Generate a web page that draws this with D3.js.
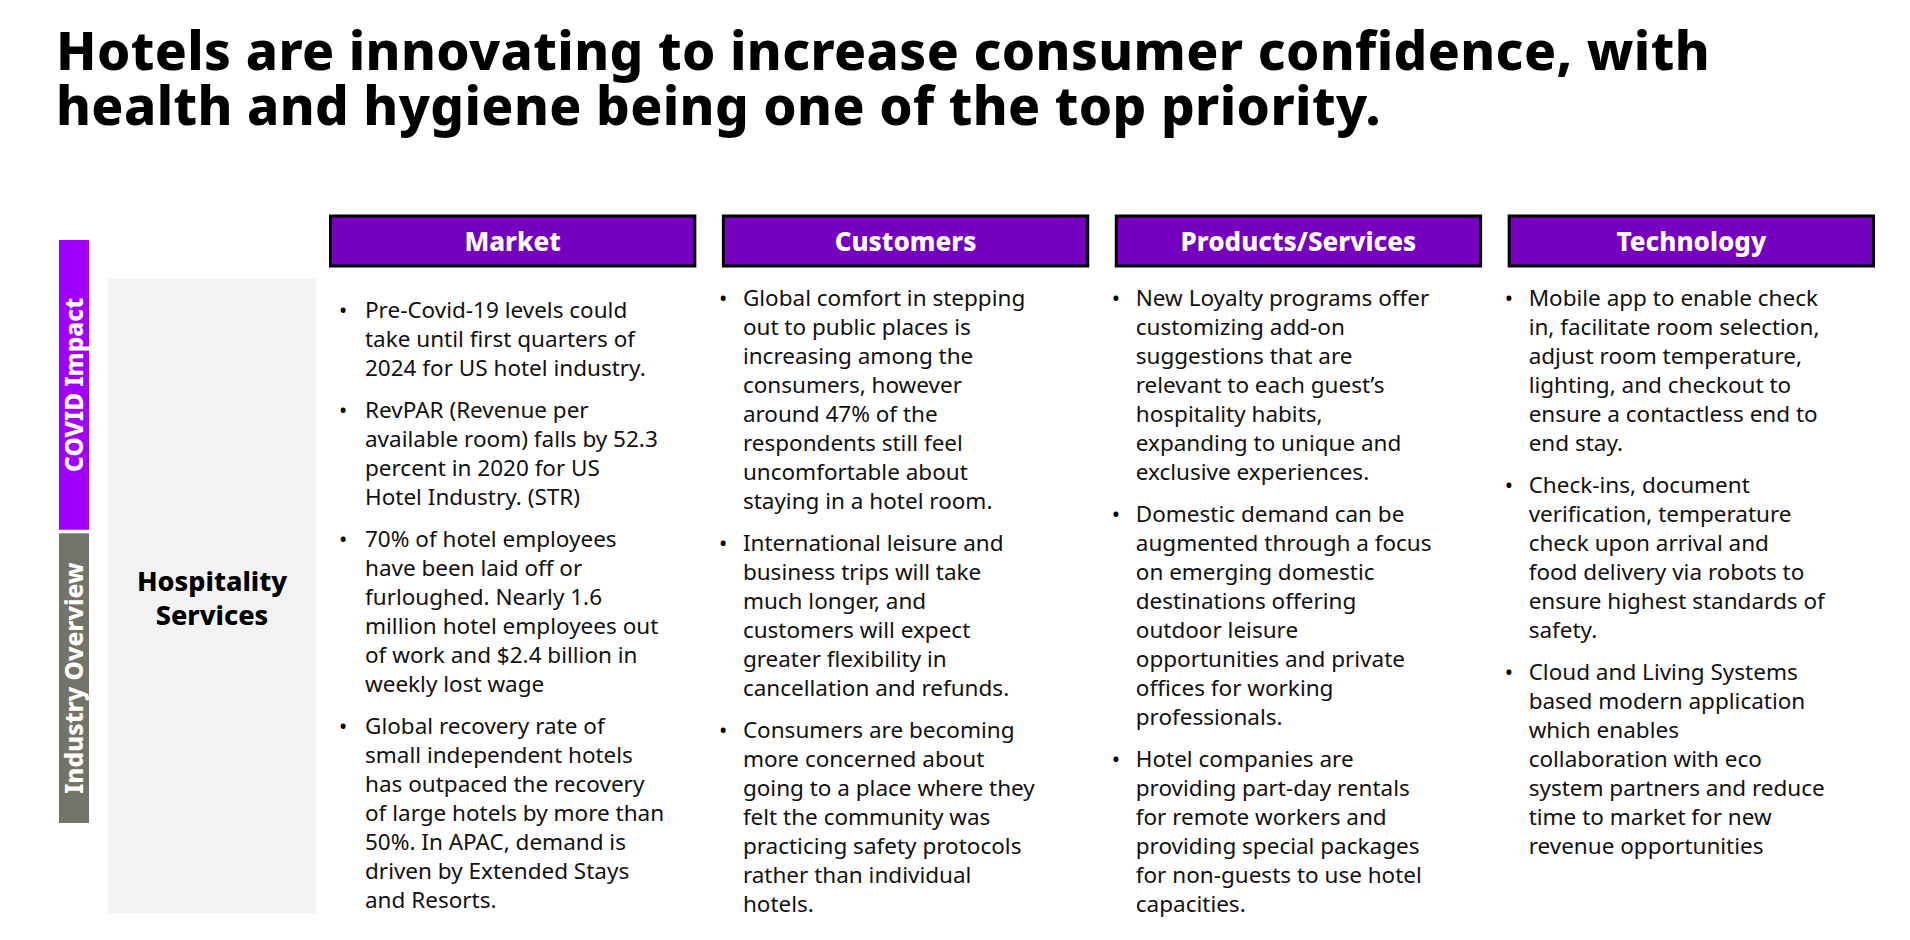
<!DOCTYPE html>
<html><head><meta charset="utf-8">
<script src="https://cdn.jsdelivr.net/npm/d3@7"></script>
<style>body{margin:0;background:#fff}</style>
</head><body>
<script>
const width = 1910, height = 940;

const titleLines = [
  "Hotels are innovating to increase consumer confidence, with",
  "health and hygiene being one of the top priority."
];
const categories = ["Market", "Customers", "Products/Services", "Technology"];
const sideLabels = ["COVID Impact", "Industry Overview"];
const rowLabel = ["Hospitality", "Services"];

const market = [
  ["Pre-Covid-19 levels could", "take until first quarters of", "2024 for US hotel industry."],
  ["RevPAR (Revenue per", "available room) falls by 52.3", "percent in 2020 for US", "Hotel Industry. (STR)"],
  ["70% of hotel employees", "have been laid off or", "furloughed. Nearly 1.6", "million hotel employees out", "of work and $2.4 billion in", "weekly lost wage"],
  ["Global recovery rate of", "small independent hotels", "has outpaced the recovery", "of large hotels by more than", "50%. In APAC, demand is", "driven by Extended Stays", "and Resorts."]
];
const customers = [
  ["Global comfort in stepping", "out to public places is", "increasing among the", "consumers, however", "around 47% of the", "respondents still feel", "uncomfortable about", "staying in a hotel room."],
  ["International leisure and", "business trips will take", "much longer, and", "customers will expect", "greater flexibility in", "cancellation and refunds."],
  ["Consumers are becoming", "more concerned about", "going to a place where they", "felt the community was", "practicing safety protocols", "rather than individual", "hotels."]
];
const products = [
  ["New Loyalty programs offer", "customizing add-on", "suggestions that are", "relevant to each guest\u2019s", "hospitality habits,", "expanding to unique and", "exclusive experiences."],
  ["Domestic demand can be", "augmented through a focus", "on emerging domestic", "destinations offering", "outdoor leisure", "opportunities and private", "offices for working", "professionals."],
  ["Hotel companies are", "providing part-day rentals", "for remote workers and", "providing special packages", "for non-guests to use hotel", "capacities."]
];
const technology = [
  ["Mobile app to enable check", "in, facilitate room selection,", "adjust room temperature,", "lighting, and checkout to", "ensure a contactless end to", "end stay."],
  ["Check-ins, document", "verification, temperature", "check upon arrival and", "food delivery via robots to", "ensure highest standards of", "safety."],
  ["Cloud and Living Systems", "based modern application", "which enables", "collaboration with eco", "system partners and reduce", "time to market for new", "revenue opportunities"]
];
const columnBullets = [market, customers, products, technology];
const columnTop = [318, 306, 306, 306];
const bulletOffset = [10, -3, -3, -3];
const textOffset = [36, 21, 21, 21];

const svg = d3.select("body").append("svg")
  .attr("width", width).attr("height", height)
  .style("font-family", "'Noto Sans', sans-serif");

svg.selectAll(".title").data(titleLines).enter().append("text")
  .attr("x", 56).attr("y", (d, i) => 70 + i * 55)
  .attr("font-size", 53).attr("font-weight", 800).attr("fill", "#000")
  .attr("letter-spacing", 0.4)
  .text(d => d);

const x = d3.scaleBand().domain(categories).range([329, 1875]).paddingInner(0.065);

// side bars
const side = d3.scaleBand().domain(sideLabels).range([240, 823]).paddingInner(0.012);
const sideColors = ["#a100ff", "#737369"];
svg.selectAll(".side").data(sideLabels).enter().append("rect")
  .attr("x", 59).attr("y", d => side(d)).attr("width", 30).attr("height", side.bandwidth())
  .attr("fill", (d, i) => sideColors[i]);
svg.selectAll(".sidelab").data(sideLabels).enter().append("text")
  .attr("transform", d => `translate(83,${side(d) + side.bandwidth() / 2}) rotate(-90)`)
  .attr("text-anchor", "middle").attr("font-size", 24.5).attr("font-weight", 800)
  .attr("fill", "#fff").text(d => d);

// row label panel
svg.append("rect").attr("x", 108).attr("y", 279).attr("width", 208).attr("height", 634).attr("fill", "#f2f2f2");
svg.selectAll(".rowlab").data(rowLabel).enter().append("text")
  .attr("x", 212).attr("y", (d, i) => 591 + i * 34).attr("text-anchor", "middle")
  .attr("font-size", 27).attr("font-weight", 800).text(d => d);

// headers
svg.selectAll(".hdr").data(categories).enter().append("rect")
  .attr("x", d => x(d) + 1.5).attr("y", 216).attr("width", x.bandwidth() - 3).attr("height", 50)
  .attr("fill", "#7500c0").attr("stroke", "#000").attr("stroke-width", 3);
svg.selectAll(".hdrt").data(categories).enter().append("text")
  .attr("x", d => x(d) + x.bandwidth() / 2).attr("y", 251).attr("text-anchor", "middle")
  .attr("font-size", 26).attr("font-weight", 800).attr("fill", "#fff").text(d => d);

// bullets
const lineH = 29, gap = 13;
categories.forEach((cat, ci) => {
  let y = columnTop[ci];
  const g = svg.append("g");
  columnBullets[ci].forEach(lines => {
    g.append("text").attr("x", x(cat) + bulletOffset[ci]).attr("y", y).attr("font-size", 22).text("\u2022");
    lines.forEach((ln, li) => {
      g.append("text").attr("x", x(cat) + textOffset[ci]).attr("y", y + li * lineH)
        .attr("font-size", 22.5).attr("fill", "#111").text(ln);
    });
    y += lines.length * lineH + gap;
  });
});
</script>
</body></html>
